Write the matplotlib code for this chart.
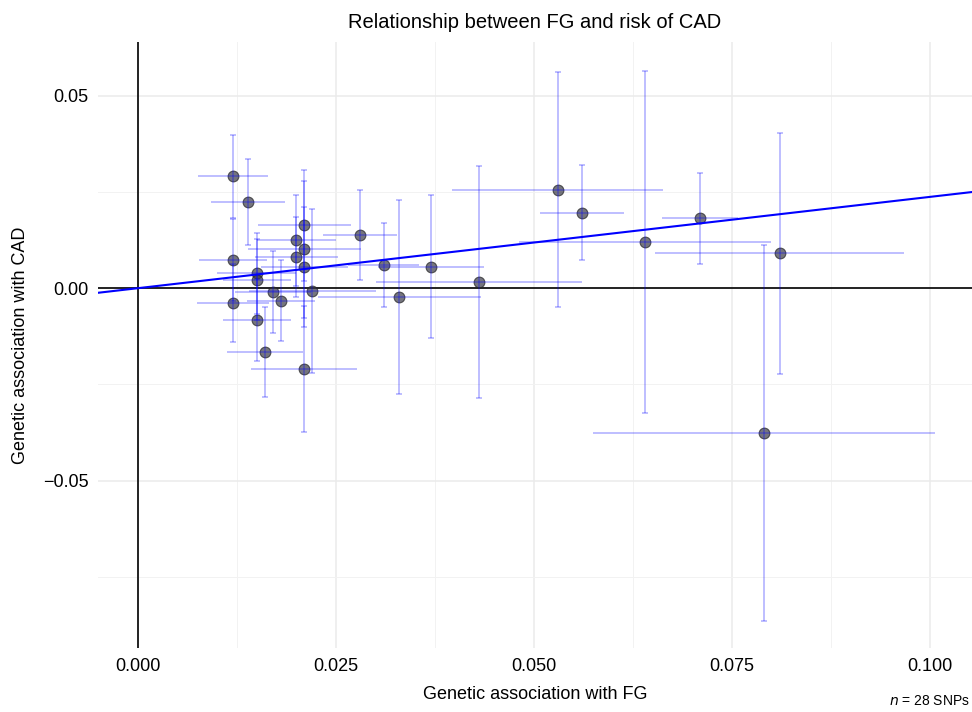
import matplotlib
matplotlib.use("Agg")
import matplotlib.pyplot as plt
from matplotlib.ticker import MultipleLocator

plt.rcParams['font.family'] = ['Liberation Sans', 'DejaVu Sans']

# SNP effects on FG (x) and CAD (y), with half-widths of the error bars
beta_fg = [0.0120, 0.0139, 0.0120, 0.0120, 0.0210, 0.0210, 0.0210, 0.0210,
           0.0200, 0.0200, 0.0280, 0.0150, 0.0150, 0.0150, 0.0170, 0.0180,
           0.0220, 0.0160, 0.0310, 0.0330, 0.0370, 0.0430, 0.0530, 0.0560,
           0.0640, 0.0710, 0.0810, 0.0790]
beta_cad = [0.0290, 0.0223, 0.0074, -0.0039, 0.0163, 0.0101, 0.0055, -0.0210,
            0.0124, 0.0081, 0.0137, 0.0039, 0.0022, -0.0082, -0.0010, -0.0032,
            -0.0007, -0.0165, 0.0060, -0.0023, 0.0056, 0.0016, 0.0255, 0.0196,
            0.0120, 0.0181, 0.0091, -0.0376]
err_fg = [0.0044, 0.0047, 0.0043, 0.0045, 0.0059, 0.0071, 0.0055, 0.0067,
          0.0050, 0.0052, 0.0047, 0.0050, 0.0043, 0.0043, 0.0048, 0.0043,
          0.0080, 0.0048, 0.0045, 0.0103, 0.0067, 0.0130, 0.0133, 0.0053,
          0.0159, 0.0048, 0.0157, 0.0216]
err_cad = [0.0108, 0.0112, 0.0106, 0.0102, 0.0145, 0.0178, 0.0155, 0.0163,
           0.0118, 0.0104, 0.0117, 0.0105, 0.0105, 0.0106, 0.0106, 0.0106,
           0.0213, 0.0117, 0.0110, 0.0252, 0.0186, 0.0300, 0.0305, 0.0124,
           0.0445, 0.0119, 0.0313, 0.0489]
ivw_slope = 0.237
n_snps = 28

fig = plt.figure(figsize=(9.72, 7.12), dpi=100)
ax = fig.add_axes([98 / 972, 64 / 712, 874 / 972, 606 / 712])

ax.set_xlim(-0.00505, 0.1053)
ax.set_ylim(-0.0934, 0.0639)
ax.xaxis.set_major_locator(MultipleLocator(0.025))
ax.xaxis.set_minor_locator(MultipleLocator(0.0125))
ax.yaxis.set_major_locator(MultipleLocator(0.05))
ax.yaxis.set_minor_locator(MultipleLocator(0.025))
ax.xaxis.set_major_formatter(lambda v, p: f"{v:.3f}".replace("-", "\u2212"))
ax.yaxis.set_major_formatter(lambda v, p: f"{v:.2f}".replace("-", "\u2212"))

ax.grid(True, which='major', color='#ebebeb', lw=1.1)
ax.grid(True, which='minor', color='#f2f2f2', lw=0.7)
ax.set_axisbelow(True)
for s in ax.spines.values():
    s.set_visible(False)
ax.tick_params(which='both', length=0, labelsize=13, colors='black', pad=7)

ax.axhline(0, color='black', lw=1.2, zorder=2)
ax.axvline(0, color='black', lw=1.2, zorder=2)

ax.scatter(beta_fg, beta_cad, s=60, color='#3a3a48', alpha=0.7,
           edgecolors='#222222', linewidths=0.8, zorder=3)
ax.errorbar(beta_fg, beta_cad, yerr=err_cad, fmt='none', ecolor='#0000ff',
            alpha=0.3, elinewidth=1.2, capsize=2.5, capthick=1.2, zorder=4)
ax.errorbar(beta_fg, beta_cad, xerr=err_fg, fmt='none', ecolor='#0000ff',
            alpha=0.3, elinewidth=1.2, capsize=0, zorder=4)

ax.axline((0, 0), slope=ivw_slope, color='#0000ff', lw=1.5, zorder=5)

ax.set_title("Relationship between FG and risk of CAD", fontsize=14.5, pad=10)
ax.set_xlabel("Genetic association with FG", fontsize=13, labelpad=8)
ax.set_ylabel("Genetic association with CAD", fontsize=13, labelpad=10)

fig.text(970 / 972, 4 / 712, f"$n$ = {n_snps} SNPs", ha='right', va='bottom',
         fontsize=10)

fig.savefig("out.png", dpi=100)
